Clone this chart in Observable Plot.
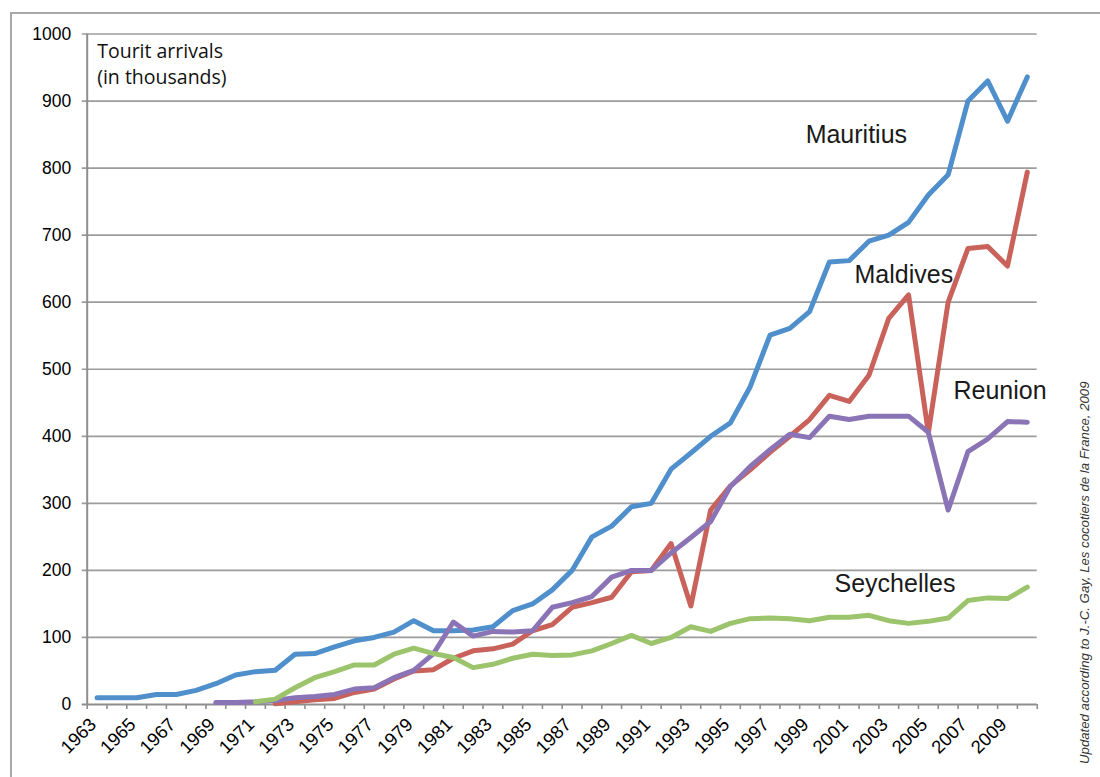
<!DOCTYPE html>
<html>
<head>
<meta charset="utf-8">
<script src="https://cdn.jsdelivr.net/npm/d3@7"></script>
<script src="https://cdn.jsdelivr.net/npm/@observablehq/plot@0.6"></script>
<style>
  html, body { margin: 0; padding: 0; background: #fff; }
  #wrap { position: relative; width: 1100px; height: 777px; overflow: hidden; }
  #border { position: absolute; left: 10px; top: 12px; width: 1200px; height: 900px;
            border: 2px solid #a8a8a8; pointer-events: none; }
</style>
</head>
<body>
<div id="wrap"><div id="border"></div></div>
<script>
const years = d3.range(1963, 2011);
const seriesNames = ["Mauritius", "Maldives", "Reunion", "Seychelles"];
const mauritius = [10,10,10,15,15,21,31,44,49,51,75,76,86,95,100,108,125,110,110,111,116,140,150,171,200,250,266,295,300,351,375,400,420,474,551,561,586,660,662,691,700,719,760,790,900,930,870,936];
const maldives = [null,null,null,null,null,null,null,null,null,1,4,7,9,18,23,38,50,52,69,80,83,90,110,119,145,152,160,198,200,240,147,290,326,350,376,400,425,461,452,491,576,611,405,600,680,683,654,794];
const reunion = [null,null,null,null,null,null,3,3,4,6,10,12,15,23,25,40,51,76,123,102,109,108,110,145,152,161,190,200,200,226,249,273,325,355,380,403,398,430,425,430,430,430,406,290,377,396,422,421];
const seychelles = [null,null,null,null,null,null,null,null,4,8,25,40,49,59,59,75,84,76,70,55,60,69,75,73,74,80,91,103,91,100,116,109,121,128,129,128,125,130,130,133,125,121,124,129,155,159,158,175];
const yTicks = [0,100,200,300,400,500,600,700,800,900,1000];
const xLabelYears = d3.range(1963, 2010, 2);
const colors = ["#4F8FCC", "#C8625B", "#8B74B6", "#9CC46C"];
const credit = "Updated according to J.-C. Gay, Les cocotiers de la France, 2009";

const valuesBySeries = [mauritius, maldives, reunion, seychelles];
const rows = [];
seriesNames.forEach((name, s) => {
  years.forEach((yr, i) => {
    const v = valuesBySeries[s][i];
    if (v != null) rows.push({series: name, year: yr, value: v});
  });
});
const boundaries = d3.range(1962.5, 2011, 1);

const W = 1100, H = 777, ML = 86.7, MR = 63.3, MT = 33.5, MB = 73;

const chart = Plot.plot({
  width: W, height: H,
  marginLeft: ML, marginRight: MR, marginTop: MT, marginBottom: MB,
  style: {fontFamily: "'Liberation Sans', Arial, Helvetica, sans-serif", background: "transparent", color: "#000", overflow: "visible"},
  x: {domain: [1962.5, 2010.5], axis: null, label: null},
  y: {domain: [0, 1000], axis: null, label: null},
  color: {domain: seriesNames, range: colors},
  marks: [
    Plot.ruleY(yTicks.filter(d => d > 0), {stroke: "#9c9c9c", strokeWidth: 1.7, insetLeft: -5}),
    Plot.ruleX([1962.5], {stroke: "#8e8e8e", strokeWidth: 2}),
    Plot.axisX(boundaries, {anchor: "bottom", tickSize: 5, tickFormat: () => "", label: null, stroke: "#8e8e8e", strokeWidth: 1.6}),
    Plot.ruleY([0], {stroke: "#8e8e8e", strokeWidth: 2.2, insetLeft: -5}),
    Plot.axisY(yTicks, {anchor: "left", tickSize: 0, tickPadding: 16, fontSize: 17.5, label: null, tickFormat: d => String(d), fill: "#000"}),
    Plot.text(xLabelYears, {x: d => d, y: 0, text: d => String(d), rotate: -45, textAnchor: "end",
      fontSize: 18.5, dx: -4, dy: 17, fill: "#000"}),
    Plot.line(rows, {x: "year", y: "value", z: "series", stroke: "series", strokeWidth: 5,
      strokeLinejoin: "round", strokeLinecap: "round"}),
    Plot.text(["Mauritius"], {x: 1998.8, y: 850, text: d => d, textAnchor: "start", fontSize: 25, fill: "#1a1a1a"}),
    Plot.text(["Maldives"], {x: 2001.27, y: 640, text: d => d, textAnchor: "start", fontSize: 25, fill: "#1a1a1a"}),
    Plot.text(["Reunion"], {x: 2006.27, y: 468, text: d => d, textAnchor: "start", fontSize: 25, fill: "#1a1a1a"}),
    Plot.text(["Seychelles"], {x: 2000.26, y: 179, text: d => d, textAnchor: "start", fontSize: 25, fill: "#1a1a1a"}),
    Plot.text([["Tourit arrivals", "(in thousands)"].join("\n")], {frameAnchor: "top-left", dx: 10, dy: 5,
      text: d => d, textAnchor: "start", lineAnchor: "top", lineHeight: 1.36, fontSize: 19.5,
      fontFamily: "'Open Sans', sans-serif", fill: "#111"}),
    Plot.text([credit], {frameAnchor: "top-right", dx: 1084 - (W - MR), dy: 381 - MT, rotate: -90,
      textAnchor: "end", lineAnchor: "middle", fontSize: 13.2, fontStyle: "italic", fill: "#333", text: d => d})
  ]
});
document.getElementById("wrap").prepend(chart);
</script>
</body>
</html>
